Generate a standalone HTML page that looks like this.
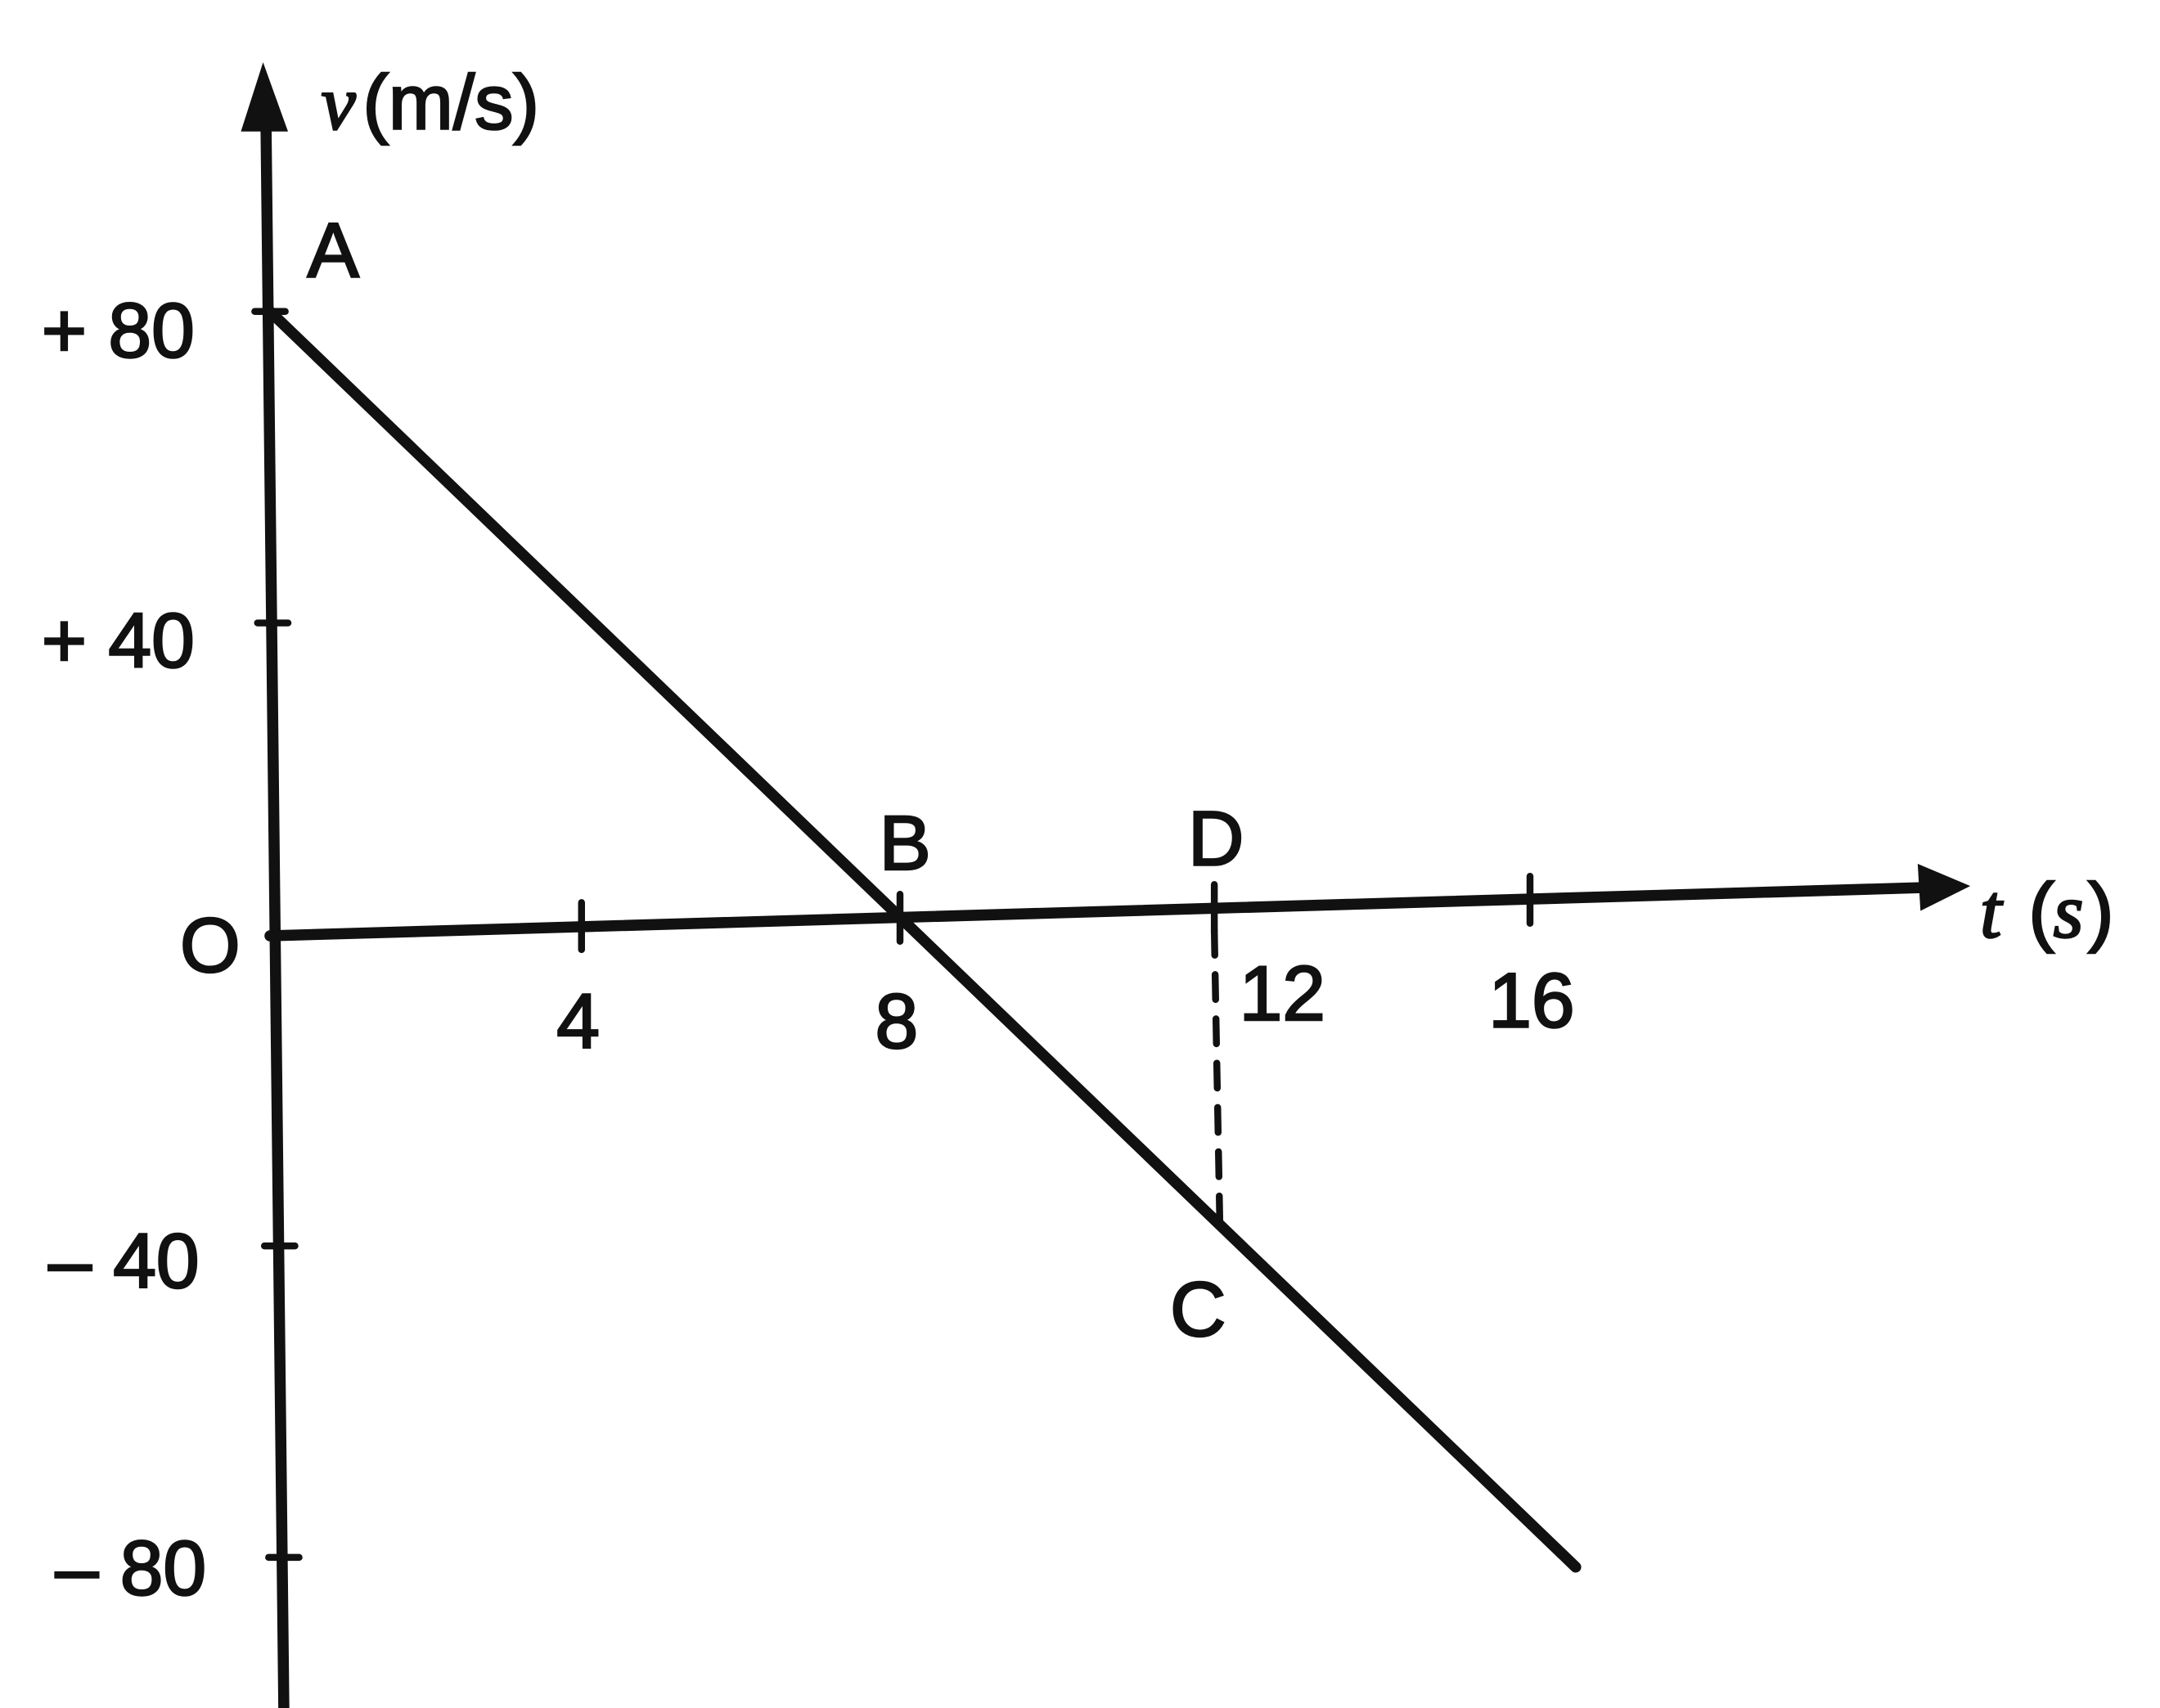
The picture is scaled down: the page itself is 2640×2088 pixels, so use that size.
<!DOCTYPE html>
<html><head><style>html,body{margin:0;padding:0;background:#fff;}svg{display:block}</style></head>
<body>
<svg width="2640" height="2088" viewBox="0 0 1560 1233.8" preserveAspectRatio="none" xmlns="http://www.w3.org/2000/svg">
<g stroke="#111" stroke-width="8" fill="none" stroke-linecap="round">
<line x1="192" y1="80" x2="205" y2="1235"/>
<line x1="195" y1="676" x2="1395" y2="641"/>
<line x1="195" y1="225" x2="1138" y2="1132"/>
<line x1="877" y1="672" x2="881" y2="885" stroke-width="5" stroke-dasharray="18,14"/>
<line x1="184" y1="225" x2="206" y2="225" stroke-width="5"/>
<line x1="186" y1="450" x2="208" y2="450" stroke-width="5"/>
<line x1="191" y1="900" x2="213" y2="900" stroke-width="5"/>
<line x1="194" y1="1125" x2="216" y2="1125" stroke-width="5"/>
<line x1="420" y1="652" x2="420" y2="686" stroke-width="5"/>
<line x1="650" y1="646" x2="650" y2="680" stroke-width="5"/>
<line x1="877" y1="639" x2="877" y2="673" stroke-width="5"/>
<line x1="1105" y1="633" x2="1105" y2="667" stroke-width="5"/>
</g>
<polygon points="190,45 174,95 208,95" fill="#111"/>
<polygon points="1423,640 1385,624 1387,658" fill="#111"/>
<g font-family="Liberation Sans, sans-serif" font-size="56" fill="#111" stroke="#111" stroke-width="1.5">
<text x="232" y="93" font-family="Liberation Serif, serif" font-style="italic">v</text>
<text x="262" y="93">(m/s)</text>
<text x="222" y="200">A</text>
<text x="30" y="258">+ 80</text>
<text x="30" y="482">+ 40</text>
<text x="130" y="702">O</text>
<text x="402" y="757">4</text>
<text x="632" y="757">8</text>
<text x="895" y="737">12</text>
<text x="1075" y="742">16</text>
<text x="635" y="628">B</text>
<text x="858" y="625">D</text>
<text x="1430" y="677" font-family="Liberation Serif, serif" font-style="italic">t</text>
<text x="1465" y="677">(</text>
<text x="1483" y="677" font-family="Liberation Serif, serif" font-style="italic">s</text>
<text x="1508" y="677">)</text>
<text x="35" y="930">– 40</text>
<text x="40" y="1152">– 80</text>
<text x="845" y="965">C</text>
</g>
</svg>
</body></html>
